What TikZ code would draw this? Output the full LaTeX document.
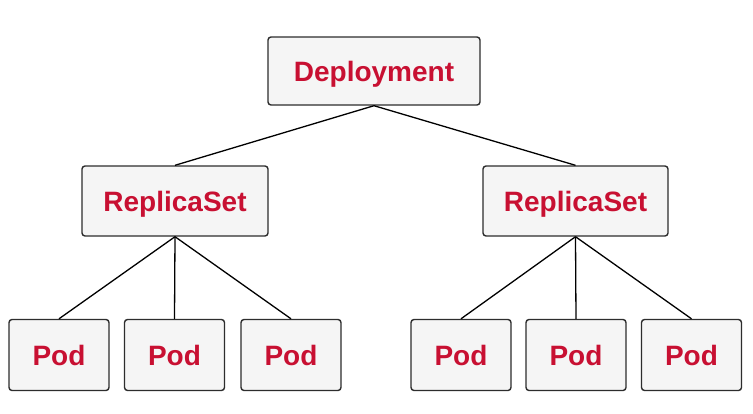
\documentclass[tikz,border=0pt]{standalone}
\usepackage{fontspec}
\setmainfont{Liberation Sans}
\definecolor{lbl}{RGB}{200,16,50}
\definecolor{boxfill}{RGB}{245,245,245}
\definecolor{boxline}{RGB}{45,45,45}
\begin{document}
\begin{tikzpicture}[x=1pt,y=-1pt,
  box/.style={draw=boxline, fill=boxfill, line width=1.4pt, rounded corners=3pt,
    font=\fontsize{28}{32}\selectfont\bfseries, text=lbl, inner sep=0pt, anchor=center,
    text height=20pt, text depth=0pt},
  link/.style={draw=black, line width=1.3pt}]
\useasboundingbox (0,0) rectangle (753,413);
\fill[white] (0,0) rectangle (753,413);
\node[box, minimum width=212pt, minimum height=68pt] (dep) at (374,71) {Deployment};
\node[box, minimum width=186pt, minimum height=70pt] (rs1) at (175,201) {ReplicaSet};
\node[box, minimum width=185pt, minimum height=70pt] (rs2) at (575.5,201) {ReplicaSet};
\node[box, minimum width=100pt, minimum height=71pt] (p1) at (59,355) {Pod};
\node[box, minimum width=100pt, minimum height=71pt] (p2) at (174.5,355) {Pod};
\node[box, minimum width=100pt, minimum height=71pt] (p3) at (291,355) {Pod};
\node[box, minimum width=100pt, minimum height=71pt] (p4) at (461,355) {Pod};
\node[box, minimum width=100pt, minimum height=71pt] (p5) at (576,355) {Pod};
\node[box, minimum width=100pt, minimum height=71pt] (p6) at (691.5,355) {Pod};
\draw[link] (dep.south) -- (rs1.north);
\draw[link] (dep.south) -- (rs2.north);
\draw[link] (rs1.south) -- (p1.north);
\draw[link] (rs1.south) -- (p2.north);
\draw[link] (rs1.south) -- (p3.north);
\draw[link] (rs2.south) -- (p4.north);
\draw[link] (rs2.south) -- (p5.north);
\draw[link] (rs2.south) -- (p6.north);
\end{tikzpicture}
\end{document}
